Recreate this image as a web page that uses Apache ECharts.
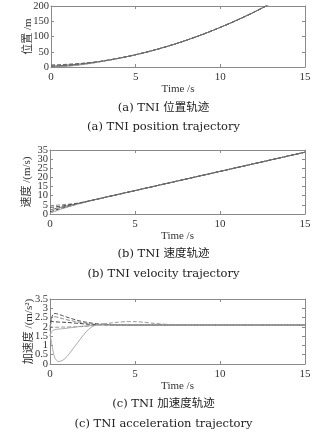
<!DOCTYPE html>
<html><head><meta charset="utf-8">
<script src="https://cdn.jsdelivr.net/npm/echarts@6/dist/echarts.min.js"></script>
<style>html,body{margin:0;padding:0;background:#fff}#c{width:327px;height:432px}</style>
</head><body><div id="c"></div>
<script>
// ---- Data ----
// (a) position, t = 0..15 s
var tP = [0,0.5,1,1.5,2,2.5,3,4,5,6,7,8,9,10,11,12,13,14,15];
var posMain = [3,4.4,6.3,8.7,11.6,14.9,19,28.6,40.3,54,69.9,87.8,107.9,130,154,180,209,240,274];
var posA1   = [6.5,7.6,8.9,10.6,12.8,15.5,19.2,28.6,40.3,54,69.9,87.8,107.9,130,154,180,209,240,274];
var posA2   = [5,6.1,7.6,9.6,12.2,15.2,19.1,28.6,40.3,54,69.9,87.8,107.9,130,154,180,209,240,274];
var posA3   = [1.2,2.2,3.9,6.4,9.8,13.8,18.5,28.4,40.3,54,69.9,87.8,107.9,130,154,180,209,240,274];
var posA4   = [0.5,1.3,2.9,5.4,9.0,13.2,18.2,28.3,40.2,54,69.9,87.8,107.9,130,154,180,209,240,274];
// (b) velocity
var tV = [0,0.25,0.5,0.75,1,1.5,2,2.5,3,4,5,6,7,8,9,10,11,12,13,14,15];
var velMain = [2.3,2.8,3.35,3.9,4.4,5.45,6.5,7.55,8.6,10.7,12.8,14.9,17.0,19.1,21.2,23.3,25.4,27.5,29.6,31.7,33.8];
var velA1   = [4.6,4.7,4.9,5.1,5.3,5.8,6.6,7.6,8.6,10.7,12.8,14.9,17.0,19.1,21.2,23.3,25.4,27.5,29.6,31.7,33.8];
var velA2   = [3.6,3.8,4.1,4.4,4.8,5.6,6.5,7.55,8.6,10.7,12.8,14.9,17.0,19.1,21.2,23.3,25.4,27.5,29.6,31.7,33.8];
var velA3   = [1.2,1.9,2.6,3.3,3.9,5.2,6.4,7.5,8.6,10.7,12.8,14.9,17.0,19.1,21.2,23.3,25.4,27.5,29.6,31.7,33.8];
var velA4   = [0.5,1.3,2.2,3.0,3.7,5.1,6.3,7.5,8.6,10.7,12.8,14.9,17.0,19.1,21.2,23.3,25.4,27.5,29.6,31.7,33.8];
// (c) acceleration
var tA = [0,0.1,0.2,0.3,0.5,0.75,1,1.25,1.5,1.75,2,2.25,2.5,2.75,3,3.5,4,4.5,5,5.5,6,7,8,9,10,11,12,13,14,15];
var accA1 = [1.6,1.1,0.6,0.3,0.13,0.2,0.4,0.7,1.0,1.3,1.6,1.85,2.02,2.1,2.12,2.11,2.1,2.1,2.1,2.1,2.1,2.1,2.1,2.1,2.1,2.1,2.1,2.1,2.1,2.1];
var accA2 = [1.8,2.5,2.7,2.72,2.68,2.6,2.52,2.45,2.38,2.32,2.27,2.23,2.2,2.17,2.15,2.13,2.11,2.1,2.1,2.1,2.1,2.1,2.1,2.1,2.1,2.1,2.1,2.1,2.1,2.1];
var accA3 = [2.0,2.45,2.55,2.55,2.5,2.44,2.38,2.33,2.29,2.25,2.22,2.19,2.16,2.14,2.13,2.11,2.1,2.1,2.1,2.1,2.1,2.1,2.1,2.1,2.1,2.1,2.1,2.1,2.1,2.1];
var accA4 = [2.3,2.3,2.28,2.27,2.26,2.25,2.24,2.22,2.2,2.18,2.16,2.14,2.13,2.12,2.11,2.1,2.1,2.1,2.1,2.1,2.1,2.1,2.1,2.1,2.1,2.1,2.1,2.1,2.1,2.1];
var accA5 = [1.5,1.75,1.82,1.85,1.88,1.9,1.93,1.96,1.99,2.02,2.04,2.06,2.08,2.09,2.1,2.1,2.1,2.1,2.1,2.1,2.1,2.1,2.1,2.1,2.1,2.1,2.1,2.1,2.1,2.1];
var accA6 = [2.1,2.0,1.98,1.98,1.98,1.99,1.99,2.0,2.0,2.01,2.02,2.04,2.06,2.1,2.14,2.2,2.25,2.28,2.28,2.25,2.2,2.13,2.1,2.1,2.1,2.1,2.1,2.1,2.1,2.1];
// axis ticks / labels
var xTicks = {min:0, max:15, interval:5};
var yPos = {min:0, max:200, interval:50};
var yVel = {min:0, max:35, interval:5};
var yAcc = {min:0, max:3.5, interval:0.5};
var yNames = ['位置 /m', '速度 /(m/s)', '加速度 /(m/s²)'];
var xName = 'Time /s';
var captions = [
  ['(a) TNI 位置轨迹', '(a) TNI position trajectory'],
  ['(b) TNI 速度轨迹', '(b) TNI velocity trajectory'],
  ['(c) TNI 加速度轨迹', '(c) TNI acceleration trajectory']
];

// ---- Chart ----
var SERIF = '"Liberation Serif","DejaVu Serif","Noto Sans CJK SC",serif';
var CAPF = '"DejaVu Serif","Noto Sans CJK SC",serif';
var axisCol = '#8a8a8a';
var grids = [
  {left:51, right:22, top:6, height:61},
  {left:50, right:22, top:150, height:64},
  {left:50, right:22, top:299, height:65}
];
var yRanges = [yPos, yVel, yAcc];
var nameGaps = [17, 17, 15];
var xAxes = [], yAxes = [];
var yLabStyle = {fontFamily:SERIF, fontSize:10.5, color:'#333', margin:2, hideOverlap:false};
for (var g = 0; g < 3; g++) {
  var common = {gridIndex:g, type:'value', splitLine:{show:false},
    axisLine:{show:true, onZero:false, lineStyle:{color:axisCol, width:1}},
    axisTick:{show:true, inside:true, length:3, lineStyle:{color:axisCol}}};
  var r = yRanges[g];
  xAxes.push(Object.assign({}, common, {position:'bottom', min:xTicks.min, max:xTicks.max, interval:xTicks.interval,
    name:xName, nameLocation:'middle', nameGap:15, nameTextStyle:{fontFamily:SERIF, fontSize:11, color:'#333'},
    axisLabel:{fontFamily:SERIF, fontSize:11, color:'#333', margin:5, showMinLabel:true, showMaxLabel:true}}));
  xAxes.push(Object.assign({}, common, {position:'top', min:xTicks.min, max:xTicks.max, interval:xTicks.interval,
    axisLabel:{show:false}}));
  // main left axis: inner tick labels
  yAxes.push(Object.assign({}, common, {position:'left', min:r.min, max:r.max, interval:r.interval,
    name:yNames[g], nameLocation:'middle', nameRotate:90, nameGap:nameGaps[g], nameMoveOverlap:false,
    nameTextStyle:{fontFamily:SERIF, fontSize:11, color:'#333'},
    axisLabel:Object.assign({}, yLabStyle, {showMinLabel:false, showMaxLabel:false})}));
  yAxes.push(Object.assign({}, common, {position:'right', min:r.min, max:r.max, interval:r.interval,
    axisLabel:{show:false}}));
  // companion left axis: min and max labels only
  (function(rr){
    yAxes.push(Object.assign({}, common, {position:'left', min:rr.min, max:rr.max, interval:rr.interval,
      axisTick:{show:false}, axisLine:{show:false, onZero:false},
      axisLabel:Object.assign({}, yLabStyle, {showMinLabel:true, showMaxLabel:true,
        formatter:function(v){ return (Math.abs(v-rr.min)<1e-9 || Math.abs(v-rr.max)<1e-9) ? String(v) : ''; }})}));
  })(r);
}
function pairs(t, v){ return t.map(function(x,i){return [x, v[i]];}); }
function line(g, t, v, color, type){
  return {type:'line', xAxisIndex:2*g, yAxisIndex:3*g, data:pairs(t,v), showSymbol:false, symbol:'none',
    clip:true, animation:false, lineStyle:{color:color, width:1, type:type}, smooth:0.3};
}
var series = [
  line(0,tP,posA1,'#555','dashed'), line(0,tP,posA2,'#777','dashed'),
  line(0,tP,posA3,'#444','dashed'), line(0,tP,posA4,'#999','solid'), line(0,tP,posMain,'#666','solid'),
  line(1,tV,velA1,'#888','dashed'), line(1,tV,velA2,'#444','dashed'),
  line(1,tV,velA3,'#333','dashed'), line(1,tV,velA4,'#999','solid'), line(1,tV,velMain,'#666','solid'),
  line(2,tA,accA1,'#aaa','solid'), line(2,tA,accA2,'#555','dashed'), line(2,tA,accA3,'#888','dashed'),
  line(2,tA,accA4,'#444','dashed'), line(2,tA,accA5,'#aaa','solid'), line(2,tA,accA6,'#999','dashed')
];
var capY = [[109,128],[255,275],[405,425]];
var graphics = [];
for (var i = 0; i < 3; i++) for (var j = 0; j < 2; j++) {
  graphics.push({type:'text', left:'center', top:capY[i][j]-7,
    style:{text:captions[i][j], font:'11.5px '+CAPF, fill:'#222'}});
}
var chart = echarts.init(document.getElementById('c'), null, {renderer:'canvas'});
chart.setOption({animation:false, backgroundColor:'#fff', grid:grids, xAxis:xAxes, yAxis:yAxes, series:series, graphic:graphics});
</script></body></html>
